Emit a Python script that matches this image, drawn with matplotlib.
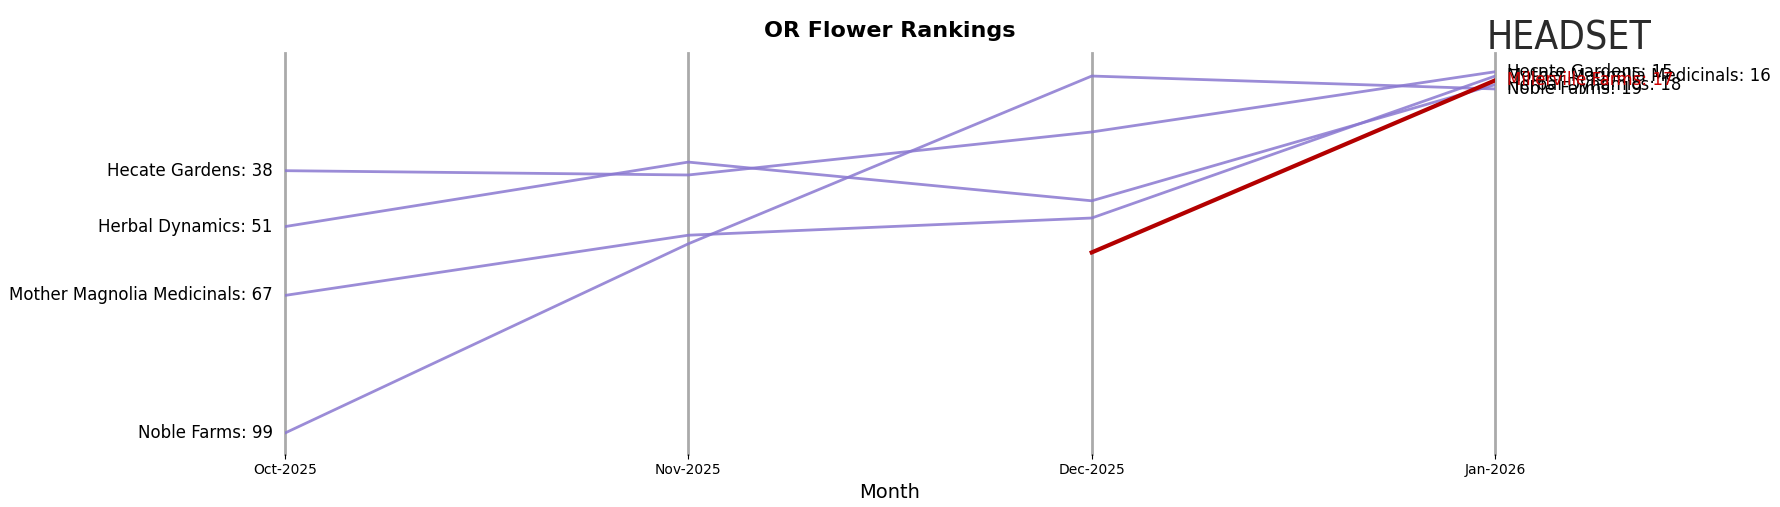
import matplotlib.pyplot as plt

months = ["Oct-2025", "Nov-2025", "Dec-2025", "Jan-2026"]
brands = ["Hecate Gardens", "Herbal Dynamics", "Mother Magnolia Medicinals", "Noble Farms", "Millerville Farms"]
ranks = {
    "Hecate Gardens": [38, 39, 29, 15],
    "Herbal Dynamics": [51, 36, 45, 18],
    "Mother Magnolia Medicinals": [67, 53, 49, 16],
    "Noble Farms": [99, 55, 16, 19],
    "Millerville Farms": [None, None, 57, 17],
}
highlight = "Millerville Farms"

fig = plt.figure(figsize=(17.8, 5.07), dpi=100)
ax = fig.add_axes([0.16, 0.105, 0.68, 0.79])
x = list(range(len(months)))
for b in brands:
    pts = [(i, r) for i, r in zip(x, ranks[b]) if r is not None]
    xs, ys = zip(*pts)
    if b == highlight:
        ax.plot(xs, ys, color="#b30000", lw=3, zorder=5)
        col = "#cc0000"
    else:
        ax.plot(xs, ys, color="#8a78d0", lw=2, alpha=0.85, zorder=3)
        col = "black"
    ax.text(xs[-1] + 0.03, ys[-1], f"{b}: {ys[-1]}", color=col, fontsize=12, va="center", ha="left")
    if ranks[b][0] is not None:
        ax.text(-0.03, ranks[b][0], f"{b}: {ranks[b][0]}", fontsize=12, va="center", ha="right")
for i in x:
    ax.axvline(i, color="#aaaaaa", lw=2, zorder=1, clip_on=False)
ax.set_ylim(103.8, 10.7)
ax.set_xlim(0, 3)
ax.set_xticks(x)
ax.set_xticklabels(months, fontsize=10)
ax.set_yticks([])
for s in ax.spines.values():
    s.set_visible(False)
ax.set_xlabel("Month", fontsize=14)
ax.set_title("OR Flower Rankings", fontsize=16, fontweight="bold", pad=12)
fig.text(0.835, 0.925, "HEADSET", fontsize=28, color="#2b2b2b", va="center", ha="left",
         family="DejaVu Sans", fontstretch="condensed")
fig.savefig("out.png", dpi=100)
